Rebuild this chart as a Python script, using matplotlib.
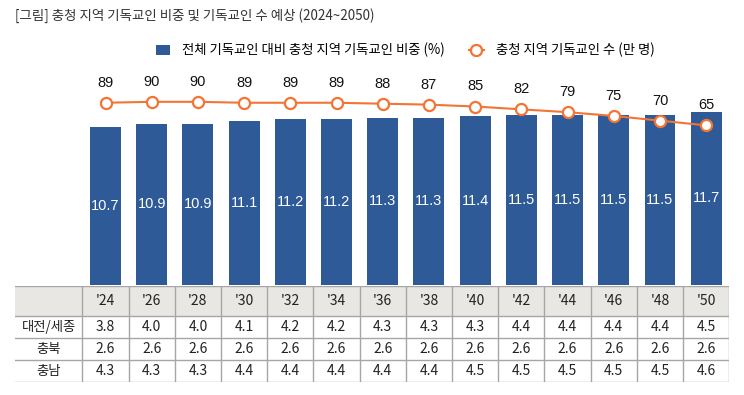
import numpy as np
import matplotlib
matplotlib.use('Agg')
from matplotlib import pyplot as plt

plt.rcParams['font.family'] = ['Noto Sans CJK KR', 'DejaVu Sans']

# Data
years = ["'24", "'26", "'28", "'30", "'32", "'34", "'36",
         "'38", "'40", "'42", "'44", "'46", "'48", "'50"]
share = [10.7, 10.9, 10.9, 11.1, 11.2, 11.2, 11.3,
         11.3, 11.4, 11.5, 11.5, 11.5, 11.5, 11.7]
believers = [89, 90, 90, 89, 89, 89, 88, 87, 85, 82, 79, 75, 70, 65]
row_names = ['대전/세종', '충북', '충남']
daejeon = [3.8, 4.0, 4.0, 4.1, 4.2, 4.2, 4.3, 4.3, 4.3, 4.4, 4.4, 4.4, 4.4, 4.5]
chungbuk = [2.6, 2.6, 2.6, 2.6, 2.6, 2.6, 2.6, 2.6, 2.6, 2.6, 2.6, 2.6, 2.6, 2.6]
chungnam = [4.3, 4.3, 4.3, 4.4, 4.4, 4.4, 4.4, 4.4, 4.5, 4.5, 4.5, 4.5, 4.5, 4.6]
table_rows = [daejeon, chungbuk, chungnam]

blue = '#2E5A98'
orange = '#F37433'
W, H = 744, 395

fig = plt.figure(figsize=(W / 100, H / 100), dpi=100)

x = np.arange(len(years))

# bar / line axes (pixel box 82..729 x 60..285)
ax = fig.add_axes([82.4 / W, (H - 285) / H, (729.3 - 82.4) / W, 225 / H])
bars = ax.bar(x, share, width=0.67, color=blue, label='전체 기독교인 대비 충청 지역 기독교인 비중 (%)')
ax.set_xlim(-0.5, len(years) - 0.5)
ax.set_ylim(0, 15.2)
for xi, v in zip(x, share):
    ax.text(xi, v / 2, f'{v:.1f}', ha='center', va='center', color='white',
            fontsize=10.5, family=['Liberation Sans'])
ax.axis('off')

ax2 = ax.twinx()
line, = ax2.plot(x, believers, color=orange, lw=1.5, marker='o', ms=8,
                 mfc='white', mec=orange, mew=1.6, label='충청 지역 기독교인 수 (만 명)')
ax2.set_ylim(-104.5, 134.4)
for xi, v in zip(x, believers):
    ax2.annotate(str(v), (xi, v), xytext=(0, 14.5), textcoords='offset points',
                 ha='center', va='center', fontsize=10.5, color='#111111',
                 family=['Liberation Sans'])
ax2.axis('off')

# legend
fig.legend(handles=[bars, line], loc='center', bbox_to_anchor=(405 / W, (H - 50) / H),
           ncol=2, frameon=False, fontsize=9.6, handlelength=1.1, handleheight=0.75,
           handletextpad=0.9, columnspacing=1.8, borderaxespad=0)

# title
fig.text(15 / W, (H - 16) / H, '[그림] 충청 지역 기독교인 비중 및 기독교인 수 예상 (2024~2050)',
         ha='left', va='center', fontsize=9.7, color='#333333')

# table below the chart
tx0 = -0.5 - (82.4 - 15) / 46.2
tab = fig.add_axes([15 / W, (H - 382.3) / H, (729.3 - 15) / W, (382.3 - 286) / H])
tab.set_xlim(tx0, len(years) - 0.5)
tab.set_ylim(382.3, 286)
tab.axis('off')
row_edges = [286, 316, 338.3, 360.3, 382.3]
grid = '#A6A6A6'
tab.axhspan(row_edges[0], row_edges[1], xmin=0, xmax=1, color='#E9E7E3', lw=0)
for yy in row_edges:
    tab.axhline(yy, color=grid, lw=1)
for xe in np.arange(-0.5, len(years), 1.0):
    tab.vlines(xe, row_edges[0], row_edges[-1], color=grid, lw=1)
for xi, lab in zip(x, years):
    tab.text(xi, (row_edges[0] + row_edges[1]) / 2, lab, ha='center', va='center',
             fontsize=10, color='#222222')
for r, (name, vals) in enumerate(zip(row_names, table_rows)):
    yc = (row_edges[r + 1] + row_edges[r + 2]) / 2
    tab.text((tx0 - 0.5) / 2, yc, name, ha='center', va='center', fontsize=9.6, color='#222222')
    for xi, v in zip(x, vals):
        tab.text(xi, yc, f'{v:.1f}', ha='center', va='center', fontsize=10, color='#222222')

fig.savefig('out.png', dpi=100)
